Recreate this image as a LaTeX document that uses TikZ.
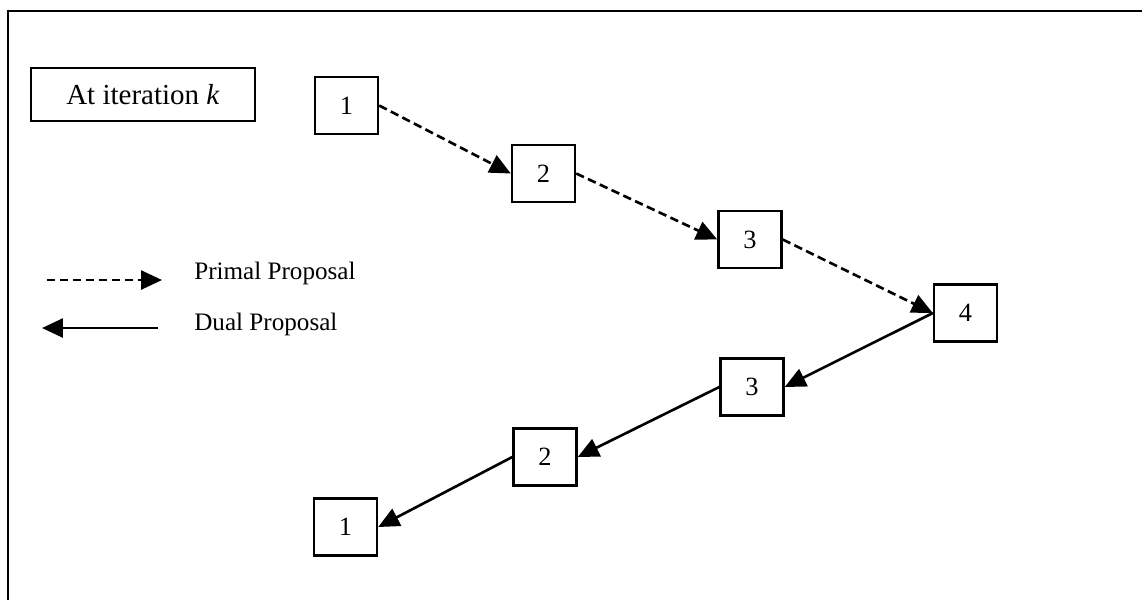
\documentclass[tikz,border=0pt]{standalone}
\usepackage{fontspec}
\setmainfont{Liberation Serif}
\usetikzlibrary{arrows.meta, positioning}

\tikzset{
  stage/.style={draw, line width=1.4pt, fill=white, minimum width=1.26cm, minimum height=1.14cm,
    inner sep=0pt, font=\fontsize{15}{15}\selectfont},
  primal/.style={line width=1.5pt, dash pattern=on 0.17cm off 0.09cm,
    -{Triangle[length=0.42cm, width=0.38cm]}},
  dual/.style={line width=1.5pt, -{Triangle[length=0.42cm, width=0.38cm]}},
  legendtext/.style={anchor=west, inner sep=0pt, font=\fontsize{14.3}{14.3}\selectfont}
}

\begin{document}
\begin{tikzpicture}[x=0.02cm, y=-0.02cm]
  \useasboundingbox (0,0) rectangle (1142,600);

  % frame (cut off at right and bottom)
  \draw[line width=1.6pt] (8,600) -- (8,11) -- (1142,11);

  % title box
  \node[draw, line width=1.4pt, minimum width=4.48cm, minimum height=1.06cm,
        font=\fontsize{16.5}{16.5}\selectfont] (title) at (143,94.5) {At iteration \textit{k}};

  % primal sweep
  \node[stage] (p1) at (346.5,105.5) {1};
  \node[stage] (p2) at (543.5,173.5) {2};
  \node[stage] (p3) at (750,239.5) {3};
  \node[stage] (n4) at (965.5,313) {4};

  % dual sweep
  \node[stage] (d3) at (752,387) {3};
  \node[stage] (d2) at (545,457) {2};
  \node[stage] (d1) at (345.5,527) {1};

  \draw[primal] (p1.east) -- (p2.west);
  \draw[primal] (p2.east) -- (p3.west);
  \draw[primal] (p3.east) -- (n4.west);

  \draw[dual] (n4.west) -- (d3.east);
  \draw[dual] (d3.west) -- (d2.east);
  \draw[dual] (d2.west) -- (d1.east);

  % legend
  \coordinate (lp0) at (47,280);
  \coordinate (lp1) at (162,280);
  \coordinate (ld0) at (158,328);
  \coordinate (ld1) at (42,328);
  \draw[primal] (lp0) -- (lp1);
  \draw[dual] (ld0) -- (ld1);
  \node[legendtext] (lprimal) at (194,273) {Primal Proposal};
  \node[legendtext] (ldual) at (194,324) {Dual Proposal};
\end{tikzpicture}
\end{document}
